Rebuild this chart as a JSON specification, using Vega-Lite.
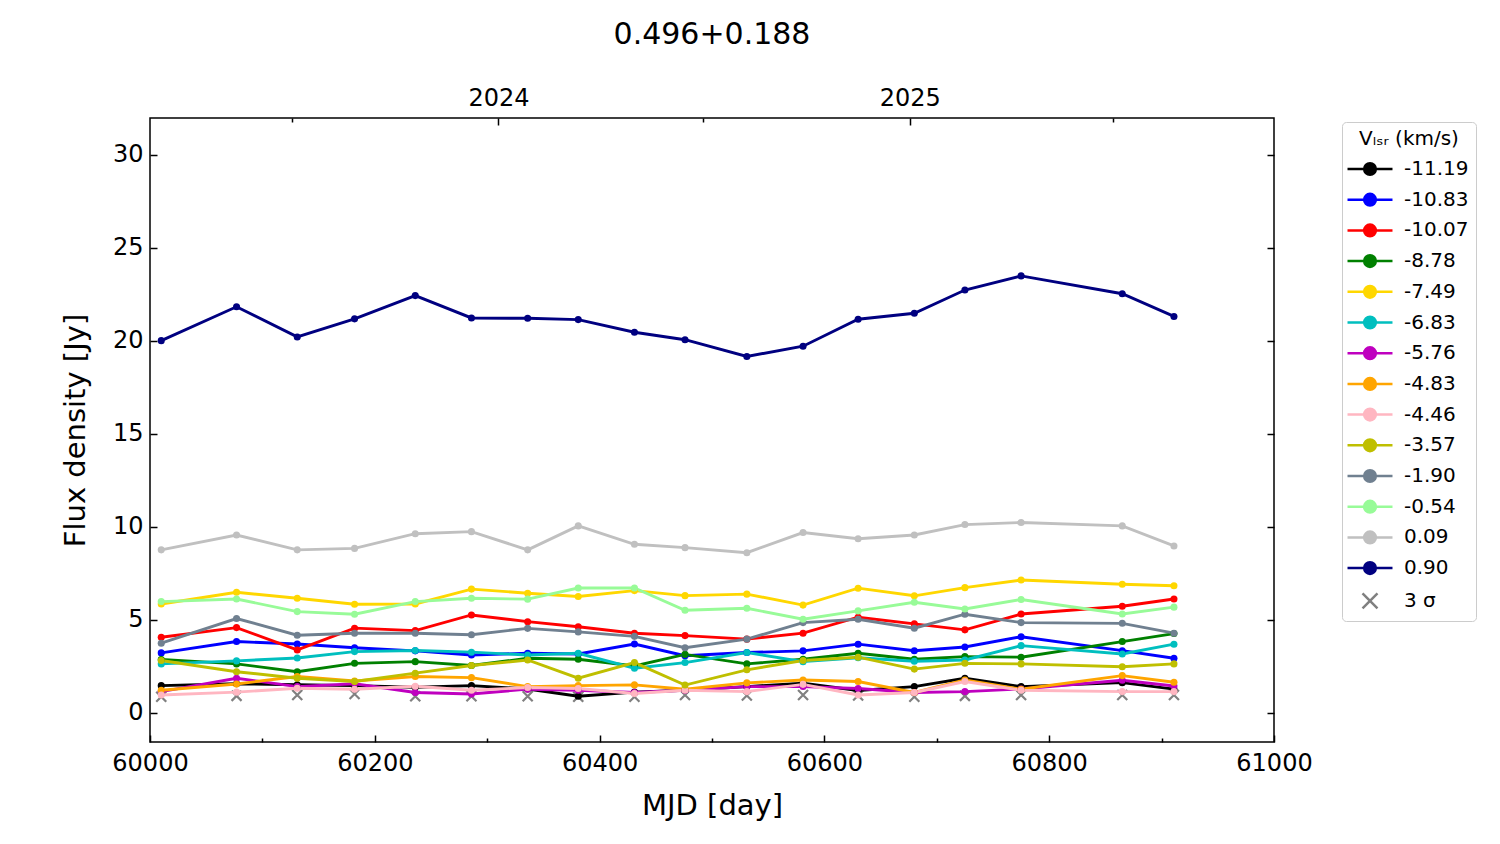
{
  "$schema": "https://vega.github.io/schema/vega-lite/v6.json",
  "width": 1124,
  "height": 624,
  "autosize": {"type": "none"},
  "padding": {"left": 150, "top": 118, "right": 226, "bottom": 102},
  "title": {"text": "0.496+0.188", "font": "DejaVu Sans", "fontSize": 30, "fontWeight": "normal", "color": "black", "offset": 33},
  "config": {
    "font": "DejaVu Sans",
    "view": {"stroke": "black", "strokeWidth": 1.5},
    "axis": {
      "grid": false, "domain": false,
      "tickColor": "black", "tickWidth": 1.5,
      "labelColor": "black", "labelFont": "DejaVu Sans", "labelFontSize": 24,
      "labelFlush": false, "labelOverlap": false,
      "titleColor": "black", "titleFont": "DejaVu Sans", "titleFontSize": 29, "titleFontWeight": "normal"
    }
  },
  "data": {"values": [
    {"v":"-11.19","mjd":60010,"flux":1.45},{"v":"-11.19","mjd":60077,"flux":1.55},{"v":"-11.19","mjd":60131,"flux":1.5},{"v":"-11.19","mjd":60182,"flux":1.45},{"v":"-11.19","mjd":60236,"flux":1.36},{"v":"-11.19","mjd":60286,"flux":1.45},{"v":"-11.19","mjd":60336,"flux":1.27},{"v":"-11.19","mjd":60381,"flux":0.88},{"v":"-11.19","mjd":60431,"flux":1.1},{"v":"-11.19","mjd":60476,"flux":1.2},{"v":"-11.19","mjd":60531,"flux":1.4},{"v":"-11.19","mjd":60581,"flux":1.58},{"v":"-11.19","mjd":60630,"flux":1.19},{"v":"-11.19","mjd":60680,"flux":1.4},{"v":"-11.19","mjd":60725,"flux":1.85},{"v":"-11.19","mjd":60775,"flux":1.4},{"v":"-11.19","mjd":60865,"flux":1.61},{"v":"-11.19","mjd":60911,"flux":1.26},
    {"v":"-10.83","mjd":60010,"flux":3.21},{"v":"-10.83","mjd":60077,"flux":3.82},{"v":"-10.83","mjd":60131,"flux":3.69},{"v":"-10.83","mjd":60182,"flux":3.49},{"v":"-10.83","mjd":60236,"flux":3.32},{"v":"-10.83","mjd":60286,"flux":3.1},{"v":"-10.83","mjd":60336,"flux":3.19},{"v":"-10.83","mjd":60381,"flux":3.15},{"v":"-10.83","mjd":60431,"flux":3.69},{"v":"-10.83","mjd":60476,"flux":3.06},{"v":"-10.83","mjd":60531,"flux":3.23},{"v":"-10.83","mjd":60581,"flux":3.32},{"v":"-10.83","mjd":60630,"flux":3.68},{"v":"-10.83","mjd":60680,"flux":3.33},{"v":"-10.83","mjd":60725,"flux":3.53},{"v":"-10.83","mjd":60775,"flux":4.08},{"v":"-10.83","mjd":60865,"flux":3.33},{"v":"-10.83","mjd":60911,"flux":2.92},
    {"v":"-10.07","mjd":60010,"flux":4.05},{"v":"-10.07","mjd":60077,"flux":4.57},{"v":"-10.07","mjd":60131,"flux":3.37},{"v":"-10.07","mjd":60182,"flux":4.54},{"v":"-10.07","mjd":60236,"flux":4.41},{"v":"-10.07","mjd":60286,"flux":5.25},{"v":"-10.07","mjd":60336,"flux":4.89},{"v":"-10.07","mjd":60381,"flux":4.62},{"v":"-10.07","mjd":60431,"flux":4.27},{"v":"-10.07","mjd":60476,"flux":4.14},{"v":"-10.07","mjd":60531,"flux":3.95},{"v":"-10.07","mjd":60581,"flux":4.27},{"v":"-10.07","mjd":60630,"flux":5.13},{"v":"-10.07","mjd":60680,"flux":4.77},{"v":"-10.07","mjd":60725,"flux":4.45},{"v":"-10.07","mjd":60775,"flux":5.3},{"v":"-10.07","mjd":60865,"flux":5.72},{"v":"-10.07","mjd":60911,"flux":6.11},
    {"v":"-8.78","mjd":60010,"flux":2.86},{"v":"-8.78","mjd":60077,"flux":2.62},{"v":"-8.78","mjd":60131,"flux":2.2},{"v":"-8.78","mjd":60182,"flux":2.65},{"v":"-8.78","mjd":60236,"flux":2.74},{"v":"-8.78","mjd":60286,"flux":2.53},{"v":"-8.78","mjd":60336,"flux":2.92},{"v":"-8.78","mjd":60381,"flux":2.87},{"v":"-8.78","mjd":60431,"flux":2.51},{"v":"-8.78","mjd":60476,"flux":3.13},{"v":"-8.78","mjd":60531,"flux":2.62},{"v":"-8.78","mjd":60581,"flux":2.87},{"v":"-8.78","mjd":60630,"flux":3.19},{"v":"-8.78","mjd":60680,"flux":2.87},{"v":"-8.78","mjd":60725,"flux":3.01},{"v":"-8.78","mjd":60775,"flux":2.98},{"v":"-8.78","mjd":60865,"flux":3.82},{"v":"-8.78","mjd":60911,"flux":4.25},
    {"v":"-7.49","mjd":60010,"flux":5.84},{"v":"-7.49","mjd":60077,"flux":6.47},{"v":"-7.49","mjd":60131,"flux":6.15},{"v":"-7.49","mjd":60182,"flux":5.83},{"v":"-7.49","mjd":60236,"flux":5.84},{"v":"-7.49","mjd":60286,"flux":6.64},{"v":"-7.49","mjd":60336,"flux":6.42},{"v":"-7.49","mjd":60381,"flux":6.24},{"v":"-7.49","mjd":60431,"flux":6.56},{"v":"-7.49","mjd":60476,"flux":6.29},{"v":"-7.49","mjd":60531,"flux":6.37},{"v":"-7.49","mjd":60581,"flux":5.78},{"v":"-7.49","mjd":60630,"flux":6.69},{"v":"-7.49","mjd":60680,"flux":6.28},{"v":"-7.49","mjd":60725,"flux":6.72},{"v":"-7.49","mjd":60775,"flux":7.13},{"v":"-7.49","mjd":60865,"flux":6.9},{"v":"-7.49","mjd":60911,"flux":6.82},
    {"v":"-6.83","mjd":60010,"flux":2.62},{"v":"-6.83","mjd":60077,"flux":2.78},{"v":"-6.83","mjd":60131,"flux":2.94},{"v":"-6.83","mjd":60182,"flux":3.28},{"v":"-6.83","mjd":60236,"flux":3.34},{"v":"-6.83","mjd":60286,"flux":3.25},{"v":"-6.83","mjd":60336,"flux":3.1},{"v":"-6.83","mjd":60381,"flux":3.19},{"v":"-6.83","mjd":60431,"flux":2.39},{"v":"-6.83","mjd":60476,"flux":2.69},{"v":"-6.83","mjd":60531,"flux":3.23},{"v":"-6.83","mjd":60581,"flux":2.74},{"v":"-6.83","mjd":60630,"flux":2.95},{"v":"-6.83","mjd":60680,"flux":2.76},{"v":"-6.83","mjd":60725,"flux":2.83},{"v":"-6.83","mjd":60775,"flux":3.6},{"v":"-6.83","mjd":60865,"flux":3.15},{"v":"-6.83","mjd":60911,"flux":3.68},
    {"v":"-5.76","mjd":60010,"flux":1.13},{"v":"-5.76","mjd":60077,"flux":1.85},{"v":"-5.76","mjd":60131,"flux":1.4},{"v":"-5.76","mjd":60182,"flux":1.55},{"v":"-5.76","mjd":60236,"flux":1.08},{"v":"-5.76","mjd":60286,"flux":1.0},{"v":"-5.76","mjd":60336,"flux":1.26},{"v":"-5.76","mjd":60381,"flux":1.2},{"v":"-5.76","mjd":60431,"flux":1.08},{"v":"-5.76","mjd":60476,"flux":1.2},{"v":"-5.76","mjd":60531,"flux":1.4},{"v":"-5.76","mjd":60581,"flux":1.4},{"v":"-5.76","mjd":60630,"flux":1.3},{"v":"-5.76","mjd":60680,"flux":1.08},{"v":"-5.76","mjd":60725,"flux":1.13},{"v":"-5.76","mjd":60775,"flux":1.27},{"v":"-5.76","mjd":60865,"flux":1.74},{"v":"-5.76","mjd":60911,"flux":1.43},
    {"v":"-4.83","mjd":60010,"flux":1.2},{"v":"-4.83","mjd":60077,"flux":1.54},{"v":"-4.83","mjd":60131,"flux":1.94},{"v":"-4.83","mjd":60182,"flux":1.7},{"v":"-4.83","mjd":60236,"flux":1.94},{"v":"-4.83","mjd":60286,"flux":1.88},{"v":"-4.83","mjd":60336,"flux":1.4},{"v":"-4.83","mjd":60381,"flux":1.45},{"v":"-4.83","mjd":60431,"flux":1.49},{"v":"-4.83","mjd":60476,"flux":1.26},{"v":"-4.83","mjd":60531,"flux":1.6},{"v":"-4.83","mjd":60581,"flux":1.75},{"v":"-4.83","mjd":60630,"flux":1.67},{"v":"-4.83","mjd":60680,"flux":1.08},{"v":"-4.83","mjd":60725,"flux":1.75},{"v":"-4.83","mjd":60775,"flux":1.26},{"v":"-4.83","mjd":60865,"flux":1.99},{"v":"-4.83","mjd":60911,"flux":1.63},
    {"v":"-4.46","mjd":60010,"flux":0.95},{"v":"-4.46","mjd":60077,"flux":1.1},{"v":"-4.46","mjd":60131,"flux":1.31},{"v":"-4.46","mjd":60182,"flux":1.26},{"v":"-4.46","mjd":60236,"flux":1.42},{"v":"-4.46","mjd":60286,"flux":1.2},{"v":"-4.46","mjd":60336,"flux":1.35},{"v":"-4.46","mjd":60381,"flux":1.3},{"v":"-4.46","mjd":60431,"flux":1.03},{"v":"-4.46","mjd":60476,"flux":1.2},{"v":"-4.46","mjd":60531,"flux":1.13},{"v":"-4.46","mjd":60581,"flux":1.52},{"v":"-4.46","mjd":60630,"flux":0.95},{"v":"-4.46","mjd":60680,"flux":1.08},{"v":"-4.46","mjd":60725,"flux":1.67},{"v":"-4.46","mjd":60775,"flux":1.2},{"v":"-4.46","mjd":60865,"flux":1.13},{"v":"-4.46","mjd":60911,"flux":1.13},
    {"v":"-3.57","mjd":60010,"flux":2.8},{"v":"-3.57","mjd":60077,"flux":2.2},{"v":"-3.57","mjd":60131,"flux":1.85},{"v":"-3.57","mjd":60182,"flux":1.67},{"v":"-3.57","mjd":60236,"flux":2.12},{"v":"-3.57","mjd":60286,"flux":2.53},{"v":"-3.57","mjd":60336,"flux":2.83},{"v":"-3.57","mjd":60381,"flux":1.85},{"v":"-3.57","mjd":60431,"flux":2.69},{"v":"-3.57","mjd":60476,"flux":1.48},{"v":"-3.57","mjd":60531,"flux":2.3},{"v":"-3.57","mjd":60581,"flux":2.8},{"v":"-3.57","mjd":60630,"flux":2.98},{"v":"-3.57","mjd":60680,"flux":2.34},{"v":"-3.57","mjd":60725,"flux":2.65},{"v":"-3.57","mjd":60775,"flux":2.62},{"v":"-3.57","mjd":60865,"flux":2.47},{"v":"-3.57","mjd":60911,"flux":2.62},
    {"v":"-1.90","mjd":60010,"flux":3.73},{"v":"-1.90","mjd":60077,"flux":5.06},{"v":"-1.90","mjd":60131,"flux":4.16},{"v":"-1.90","mjd":60182,"flux":4.27},{"v":"-1.90","mjd":60236,"flux":4.27},{"v":"-1.90","mjd":60286,"flux":4.19},{"v":"-1.90","mjd":60336,"flux":4.53},{"v":"-1.90","mjd":60381,"flux":4.34},{"v":"-1.90","mjd":60431,"flux":4.1},{"v":"-1.90","mjd":60476,"flux":3.49},{"v":"-1.90","mjd":60531,"flux":3.95},{"v":"-1.90","mjd":60581,"flux":4.84},{"v":"-1.90","mjd":60630,"flux":5.02},{"v":"-1.90","mjd":60680,"flux":4.54},{"v":"-1.90","mjd":60725,"flux":5.29},{"v":"-1.90","mjd":60775,"flux":4.84},{"v":"-1.90","mjd":60865,"flux":4.8},{"v":"-1.90","mjd":60911,"flux":4.27},
    {"v":"-0.54","mjd":60010,"flux":5.97},{"v":"-0.54","mjd":60077,"flux":6.11},{"v":"-0.54","mjd":60131,"flux":5.43},{"v":"-0.54","mjd":60182,"flux":5.29},{"v":"-0.54","mjd":60236,"flux":5.97},{"v":"-0.54","mjd":60286,"flux":6.15},{"v":"-0.54","mjd":60336,"flux":6.1},{"v":"-0.54","mjd":60381,"flux":6.7},{"v":"-0.54","mjd":60431,"flux":6.7},{"v":"-0.54","mjd":60476,"flux":5.5},{"v":"-0.54","mjd":60531,"flux":5.61},{"v":"-0.54","mjd":60581,"flux":5.02},{"v":"-0.54","mjd":60630,"flux":5.47},{"v":"-0.54","mjd":60680,"flux":5.93},{"v":"-0.54","mjd":60725,"flux":5.57},{"v":"-0.54","mjd":60775,"flux":6.08},{"v":"-0.54","mjd":60865,"flux":5.3},{"v":"-0.54","mjd":60911,"flux":5.67},
    {"v":"0.09","mjd":60010,"flux":8.75},{"v":"0.09","mjd":60077,"flux":9.55},{"v":"0.09","mjd":60131,"flux":8.75},{"v":"0.09","mjd":60182,"flux":8.83},{"v":"0.09","mjd":60236,"flux":9.62},{"v":"0.09","mjd":60286,"flux":9.73},{"v":"0.09","mjd":60336,"flux":8.75},{"v":"0.09","mjd":60381,"flux":10.04},{"v":"0.09","mjd":60431,"flux":9.05},{"v":"0.09","mjd":60476,"flux":8.87},{"v":"0.09","mjd":60531,"flux":8.6},{"v":"0.09","mjd":60581,"flux":9.68},{"v":"0.09","mjd":60630,"flux":9.35},{"v":"0.09","mjd":60680,"flux":9.55},{"v":"0.09","mjd":60725,"flux":10.11},{"v":"0.09","mjd":60775,"flux":10.22},{"v":"0.09","mjd":60865,"flux":10.04},{"v":"0.09","mjd":60911,"flux":8.96},
    {"v":"0.90","mjd":60010,"flux":20.0},{"v":"0.90","mjd":60077,"flux":21.82},{"v":"0.90","mjd":60131,"flux":20.2},{"v":"0.90","mjd":60182,"flux":21.17},{"v":"0.90","mjd":60236,"flux":22.42},{"v":"0.90","mjd":60286,"flux":21.22},{"v":"0.90","mjd":60336,"flux":21.2},{"v":"0.90","mjd":60381,"flux":21.13},{"v":"0.90","mjd":60431,"flux":20.45},{"v":"0.90","mjd":60476,"flux":20.05},{"v":"0.90","mjd":60531,"flux":19.15},{"v":"0.90","mjd":60581,"flux":19.7},{"v":"0.90","mjd":60630,"flux":21.15},{"v":"0.90","mjd":60680,"flux":21.47},{"v":"0.90","mjd":60725,"flux":22.72},{"v":"0.90","mjd":60775,"flux":23.48},{"v":"0.90","mjd":60865,"flux":22.52},{"v":"0.90","mjd":60911,"flux":21.3},
    {"v":"3 σ","mjd":60010,"flux":0.85},{"v":"3 σ","mjd":60077,"flux":0.9},{"v":"3 σ","mjd":60131,"flux":0.95},{"v":"3 σ","mjd":60182,"flux":1.0},{"v":"3 σ","mjd":60236,"flux":0.88},{"v":"3 σ","mjd":60286,"flux":0.88},{"v":"3 σ","mjd":60336,"flux":0.88},{"v":"3 σ","mjd":60381,"flux":0.85},{"v":"3 σ","mjd":60431,"flux":0.85},{"v":"3 σ","mjd":60476,"flux":0.95},{"v":"3 σ","mjd":60531,"flux":0.92},{"v":"3 σ","mjd":60581,"flux":0.95},{"v":"3 σ","mjd":60630,"flux":0.92},{"v":"3 σ","mjd":60680,"flux":0.85},{"v":"3 σ","mjd":60725,"flux":0.9},{"v":"3 σ","mjd":60775,"flux":0.95},{"v":"3 σ","mjd":60865,"flux":0.95},{"v":"3 σ","mjd":60911,"flux":0.95}
  ]},
  "layer": [
    {
      "transform": [{"filter": "datum.v === '3 σ'"}],
      "mark": {"type": "point", "shape": "M-1,-1L1,1M-1,1L1,-1", "filled": false, "size": 100, "strokeWidth": 2.2, "opacity": 1},
      "encoding": {
        "x": {
          "field": "mjd", "type": "quantitative",
          "scale": {"domain": [60000, 61000], "nice": false, "zero": false},
          "axis": {
            "orient": "top", "title": null,
            "values": [60126, 60310, 60492, 60676, 60857],
            "labelExpr": "datum.value == 60310 ? '2024' : datum.value == 60676 ? '2025' : ''",
            "tickSize": {"condition": {"test": "datum.value == 60310 || datum.value == 60676", "value": -7}, "value": -4},
            "labelPadding": 15
          }
        },
        "y": {
          "field": "flux", "type": "quantitative",
          "scale": {"domain": [-1.58, 31.97], "nice": false, "zero": false},
          "axis": {"orient": "right", "title": null, "values": [0, 5, 10, 15, 20, 25, 30], "labels": false, "tickSize": -7}
        },
        "color": {
          "field": "v", "type": "nominal",
          "scale": {
            "domain": ["-11.19", "-10.83", "-10.07", "-8.78", "-7.49", "-6.83", "-5.76", "-4.83", "-4.46", "-3.57", "-1.90", "-0.54", "0.09", "0.90", "3 σ"],
            "range": ["#000000", "#0000ff", "#ff0000", "#008000", "#ffd700", "#00bfbf", "#bf00bf", "#ffa500", "#ffb6c1", "#bfbf00", "#708090", "#98fb98", "#c0c0c0", "#000080", "#808080"]
          },
          "legend": {
            "title": "Vₗₛᵣ (km/s)",
            "orient": "none", "legendX": 1192, "legendY": 4,
            "padding": 7, "strokeColor": "#cccccc", "fillColor": "white", "cornerRadius": 4,
            "titleFont": "DejaVu Sans", "titleFontSize": 20, "titleFontWeight": "normal", "titleColor": "black", "titleAnchor": "middle", "titlePadding": 10,
            "labelFont": "DejaVu Sans", "labelFontSize": 20, "labelColor": "black", "labelOffset": 24, "labelLimit": 200,
            "symbolSize": 169, "symbolOffset": 11, "symbolStrokeWidth": 2.5, "rowPadding": 8.7,
            "encode": {"symbols": {"update": {
              "shape": {"signal": "datum.value === '3 σ' ? 'M-1.15,-1.15L1.15,1.15M-1.15,1.15L1.15,-1.15' : 'M-3.46,0H3.46M-0.9,0A0.9,0.9 0 1,1 0.9,0A0.9,0.9 0 1,1 -0.9,0Z'"},
              "fill": {"scale": "color", "field": "value"},
              "stroke": {"scale": "color", "field": "value"},
              "strokeWidth": {"value": 2.5},
              "size": {"value": 169},
              "opacity": {"value": 1}
            }}}
          }
        }
      }
    },
    {
      "transform": [{"filter": "datum.v !== '3 σ'"}],
      "mark": {"type": "line", "strokeWidth": 2.9},
      "encoding": {
        "x": {
          "field": "mjd", "type": "quantitative",
          "axis": {
            "orient": "bottom", "title": "MJD [day]", "format": "d",
            "values": [60000, 60100, 60200, 60300, 60400, 60500, 60600, 60700, 60800, 60900, 61000],
            "labelExpr": "datum.value % 200 == 0 ? datum.label : ''",
            "tickSize": {"condition": {"test": "datum.value % 200 == 0", "value": -7}, "value": -4},
            "labelPadding": 16, "titleY": 63, "titleBaseline": "middle"
          }
        },
        "y": {
          "field": "flux", "type": "quantitative",
          "axis": {
            "orient": "left", "title": "Flux density [Jy]",
            "values": [0, 5, 10, 15, 20, 25, 30], "tickSize": -7, "labelPadding": 14,
            "titleX": -75, "titleY": 312, "titleBaseline": "middle"
          }
        },
        "color": {
          "field": "v", "type": "nominal",
          "legend": {
            "title": "Vₗₛᵣ (km/s)",
            "orient": "none", "legendX": 1192, "legendY": 4,
            "padding": 7, "strokeColor": "#cccccc", "fillColor": "white", "cornerRadius": 4,
            "titleFont": "DejaVu Sans", "titleFontSize": 20, "titleFontWeight": "normal", "titleColor": "black", "titleAnchor": "middle", "titlePadding": 10,
            "labelFont": "DejaVu Sans", "labelFontSize": 20, "labelColor": "black", "labelOffset": 24, "labelLimit": 200,
            "symbolSize": 169, "symbolOffset": 11, "symbolStrokeWidth": 2.5, "rowPadding": 8.7,
            "encode": {"symbols": {"update": {
              "shape": {"signal": "datum.value === '3 σ' ? 'M-1.15,-1.15L1.15,1.15M-1.15,1.15L1.15,-1.15' : 'M-3.46,0H3.46M-0.9,0A0.9,0.9 0 1,1 0.9,0A0.9,0.9 0 1,1 -0.9,0Z'"},
              "fill": {"scale": "color", "field": "value"},
              "stroke": {"scale": "color", "field": "value"},
              "strokeWidth": {"value": 2.5},
              "size": {"value": 169},
              "opacity": {"value": 1}
            }}}
          }
        }
      }
    },
    {
      "transform": [{"filter": "datum.v !== '3 σ'"}],
      "mark": {"type": "point", "shape": "circle", "filled": true, "size": 50, "opacity": 1},
      "encoding": {
        "x": {"field": "mjd", "type": "quantitative", "axis": null},
        "y": {"field": "flux", "type": "quantitative", "axis": null},
        "color": {
          "field": "v", "type": "nominal",
          "legend": {
            "title": "Vₗₛᵣ (km/s)",
            "orient": "none", "legendX": 1192, "legendY": 4,
            "padding": 7, "strokeColor": "#cccccc", "fillColor": "white", "cornerRadius": 4,
            "titleFont": "DejaVu Sans", "titleFontSize": 20, "titleFontWeight": "normal", "titleColor": "black", "titleAnchor": "middle", "titlePadding": 10,
            "labelFont": "DejaVu Sans", "labelFontSize": 20, "labelColor": "black", "labelOffset": 24, "labelLimit": 200,
            "symbolSize": 169, "symbolOffset": 11, "symbolStrokeWidth": 2.5, "rowPadding": 8.7,
            "encode": {"symbols": {"update": {
              "shape": {"signal": "datum.value === '3 σ' ? 'M-1.15,-1.15L1.15,1.15M-1.15,1.15L1.15,-1.15' : 'M-3.46,0H3.46M-0.9,0A0.9,0.9 0 1,1 0.9,0A0.9,0.9 0 1,1 -0.9,0Z'"},
              "fill": {"scale": "color", "field": "value"},
              "stroke": {"scale": "color", "field": "value"},
              "strokeWidth": {"value": 2.5},
              "size": {"value": 169},
              "opacity": {"value": 1}
            }}}
          }
        }
      }
    }
  ],
  "resolve": {"axis": {"x": "independent", "y": "independent"}}
}
